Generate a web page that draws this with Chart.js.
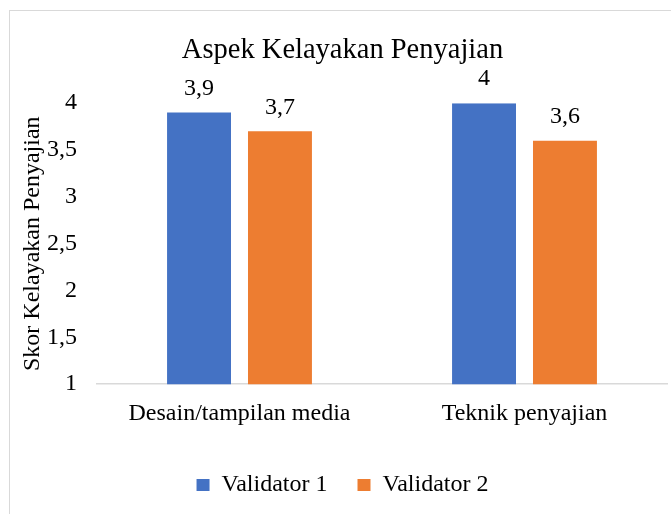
<!DOCTYPE html>
<html>
<head>
<meta charset="utf-8">
<script src="https://cdn.jsdelivr.net/npm/chart.js@4"></script>
<style>
    html, body { margin: 0; padding: 0; background: #fff; }
    #wrap { position: relative; width: 671px; height: 514px; overflow: hidden; }
    #frame { position: absolute; left: 9px; top: 10px; width: 700px; height: 540px; border: 1px solid #d9d9d9; pointer-events: none; }
    canvas { position: absolute; left: 0; top: 0; }
</style>
</head>
<body>
<div id="wrap">
    <canvas id="chart" width="671" height="514"></canvas>
    <div id="frame"></div>
</div>
<script>
// Chart data
const categories = ['Desain/tampilan media', 'Teknik penyajian'];
const validator1 = [3.9, 4];
const validator2 = [3.7, 3.6];
const seriesNames = ['Validator 1', 'Validator 2'];
const yTicks = [1, 1.5, 2, 2.5, 3, 3.5, 4];

const serif = "'Liberation Serif', 'Times New Roman', serif";
const fmt = v => String(v).replace('.', ',');

Chart.defaults.font.family = serif;
Chart.defaults.color = '#000';

// Draw value labels above each bar
const valueLabels = {
    id: 'valueLabels',
    afterDatasetsDraw(chart) {
        const ctx = chart.ctx;
        ctx.save();
        ctx.font = `24px ${serif}`;
        ctx.fillStyle = '#000';
        ctx.textAlign = 'center';
        ctx.textBaseline = 'middle';
        chart.data.datasets.forEach((ds, i) => {
            chart.getDatasetMeta(i).data.forEach((bar, j) => {
                ctx.fillText(fmt(ds.data[j]), bar.x, bar.y - 24);
            });
        });
        ctx.restore();
    }
};

new Chart(document.getElementById('chart').getContext('2d'), {
    type: 'bar',
    data: {
        labels: categories,
        datasets: [
            { label: seriesNames[0], data: validator1, backgroundColor: '#4472c4' },
            { label: seriesNames[1], data: validator2, backgroundColor: '#ed7d31' }
        ]
    },
    options: {
        responsive: false,
        animation: false,
        devicePixelRatio: 1,
        categoryPercentage: 0.568,
        barPercentage: 0.79,
        layout: { padding: { left: 18, right: 4, top: 0, bottom: 7 } },
        scales: {
            x: {
                grid: { display: false, drawTicks: false },
                border: { color: '#d9d9d9', width: 1.5 },
                ticks: { color: '#000', font: { family: serif, size: 24 }, padding: 15 }
            },
            y: {
                min: 1,
                max: 4,
                afterBuildTicks: axis => { axis.ticks = yTicks.map(v => ({ value: v })); },
                afterFit: axis => { axis.width = 79; },
                grid: { display: false, drawTicks: false },
                border: { display: false },
                ticks: { color: '#000', font: { family: serif, size: 24 }, padding: 20, callback: v => fmt(v) },
                title: { display: true, text: 'Skor Kelayakan Penyajian', color: '#000', font: { family: serif, size: 24 }, padding: 0 }
            }
        },
        plugins: {
            title: {
                display: true,
                text: 'Aspek Kelayakan Penyajian',
                color: '#000',
                font: { family: serif, size: 28.5, weight: 'normal' },
                padding: { top: 33, bottom: 36 }
            },
            legend: {
                position: 'bottom',
                labels: { color: '#000', font: { family: serif, size: 24 }, boxWidth: 13, boxHeight: 12, padding: 30 }
            },
            tooltip: { enabled: false }
        }
    },
    plugins: [valueLabels]
});
</script>
</body>
</html>
